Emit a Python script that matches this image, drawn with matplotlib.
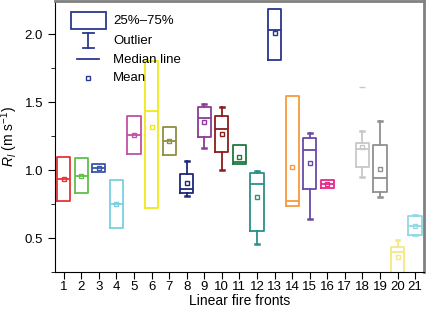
import matplotlib.pyplot as plt
import matplotlib as mpl
from matplotlib.patches import Rectangle
from matplotlib.lines import Line2D
from matplotlib.ticker import MultipleLocator

mpl.rcParams['font.family'] = ['Liberation Sans', 'DejaVu Sans']
mpl.rcParams['mathtext.fontset'] = 'custom'
mpl.rcParams['mathtext.rm'] = 'Liberation Sans'
mpl.rcParams['mathtext.it'] = 'Liberation Sans:italic'

# 数据 (None = no box for that front)
fronts = list(range(1, 22))
q1 = [0.776, 0.83, 0.99, 0.578, 1.12, 0.72, 1.11, 0.831, 1.243, 1.137, 1.044,
      0.556, 1.809, 0.738, 0.865, 0.868, None, 1.022, 0.838, 0.20, 0.522]
med = [0.934, 0.96, 1.017, 0.755, 1.262, 1.436, 1.215, 0.865, 1.387, 1.30, 1.059,
       0.899, 2.029, 0.777, 1.147, 0.90, None, 1.154, 0.946, 0.40, 0.59]
q3 = [1.096, 1.09, 1.046, 0.929, 1.40, 1.80, 1.32, 0.975, 1.468, 1.40, 1.186,
      0.982, 2.188, 1.544, 1.24, 0.929, None, 1.203, 1.188, 0.434, 0.662]
mean = [0.934, 0.96, 1.017, 0.755, 1.262, 1.32, 1.215, 0.904, 1.355, 1.27, 1.096,
        0.80, 2.01, 1.022, 1.054, 0.90, None, 1.169, 1.012, 0.365, 0.59]
whis_lo = [None, None, None, None, None, None, None, 0.81, 1.166, 1.002, None,
           0.46, None, None, 0.64, None, None, 0.948, 0.80, None, None]
whis_hi = [None, None, None, None, None, None, None, 1.068, 1.49, 1.468, None,
           0.993, None, None, 1.277, None, None, 1.29, 1.365, 0.487, 0.67]
outliers = {18: [1.615]}

colors = ['#e8323a', '#5fbf4a', '#3a55a8', '#78cfe0', '#c050a8', '#f0e818',
          '#8f8f40', '#1e2878', '#8c3c96', '#8a1c1c', '#1e7a40', '#2a9088',
          '#2a3590', '#f89a40', '#6a4aa8', '#e8288a', None, '#c8c8c8',
          '#909090', '#f5e880', '#90d8e8']

fig = plt.figure(figsize=(4.26, 3.10), dpi=100)
ax = fig.add_axes([0.129, 0.1216, 0.866, 0.8754])

for i, f in enumerate(fronts):
    if q1[i] is None:
        continue
    has_whis = whis_lo[i] is not None or whis_hi[i] is not None
    lo = whis_lo[i] if whis_lo[i] is not None else q1[i]
    hi = whis_hi[i] if whis_hi[i] is not None else q3[i]
    st = dict(q1=q1[i], med=med[i], q3=q3[i], mean=mean[i],
              whislo=lo, whishi=hi, fliers=outliers.get(f, []))
    c = colors[i]
    ax.bxp([st], positions=[f], widths=0.75, capwidths=[0.22 if has_whis else 0],
           showmeans=True, showfliers=True,
           boxprops=dict(color=c, linewidth=1.3),
           medianprops=dict(color=c, linewidth=1.3),
           whiskerprops=dict(color=c, linewidth=1.3),
           capprops=dict(color=c, linewidth=1.8),
           meanprops=dict(marker='s', markersize=3.5, markerfacecolor='none',
                          markeredgecolor=c, markeredgewidth=1.0),
           flierprops=dict(marker='_', markersize=4, markeredgecolor=c))

ax.set_xlim(0.5, 21.5)
ax.set_ylim(0.25, 2.245)
ax.set_xticks(fronts)
ax.set_xticklabels([str(f) for f in fronts])
ax.yaxis.set_major_locator(MultipleLocator(0.5))
ax.yaxis.set_minor_locator(MultipleLocator(0.25))
ax.tick_params(axis='both', which='major', direction='out', length=5, labelsize=9.5)
ax.tick_params(axis='y', which='minor', direction='out', length=3)
ax.tick_params(axis='x', pad=1.5)
for s in ['top', 'right']:
    ax.spines[s].set_color('#808080')
    ax.spines[s].set_linewidth(2)
ax.set_xlabel('Linear fire fronts', fontsize=10, labelpad=0.5)
ax.set_ylabel(r'$R_l$ (m s$^{-1}$)', fontsize=10, labelpad=3)

# 图例 (manual, in axes coords)
lc = '#2b3a8f'
tr = ax.transAxes
ax.add_patch(Rectangle((0.043, 0.898), 0.095, 0.06, transform=tr, fill=False,
                       edgecolor=lc, linewidth=1.3))
ax.add_line(Line2D([0.09, 0.09], [0.827, 0.882], transform=tr, color=lc, lw=1.3))
ax.add_line(Line2D([0.075, 0.105], [0.882, 0.882], transform=tr, color=lc, lw=1.3))
ax.add_line(Line2D([0.075, 0.105], [0.827, 0.827], transform=tr, color=lc, lw=1.3))
ax.add_line(Line2D([0.061, 0.119], [0.787, 0.787], transform=tr, color=lc, lw=1.3))
ax.add_line(Line2D([0.09], [0.716], transform=tr, color=lc, marker='s',
                   markersize=3.5, markerfacecolor='none', markeredgewidth=1.0))
for txt, y in [('25%\u201375%', 0.925), ('Outlier', 0.853), ('Median line', 0.782),
               ('Mean', 0.716)]:
    ax.text(0.158, y, txt, transform=tr, fontsize=9.5, va='center', ha='left')

fig.savefig('out.png', dpi=100)
